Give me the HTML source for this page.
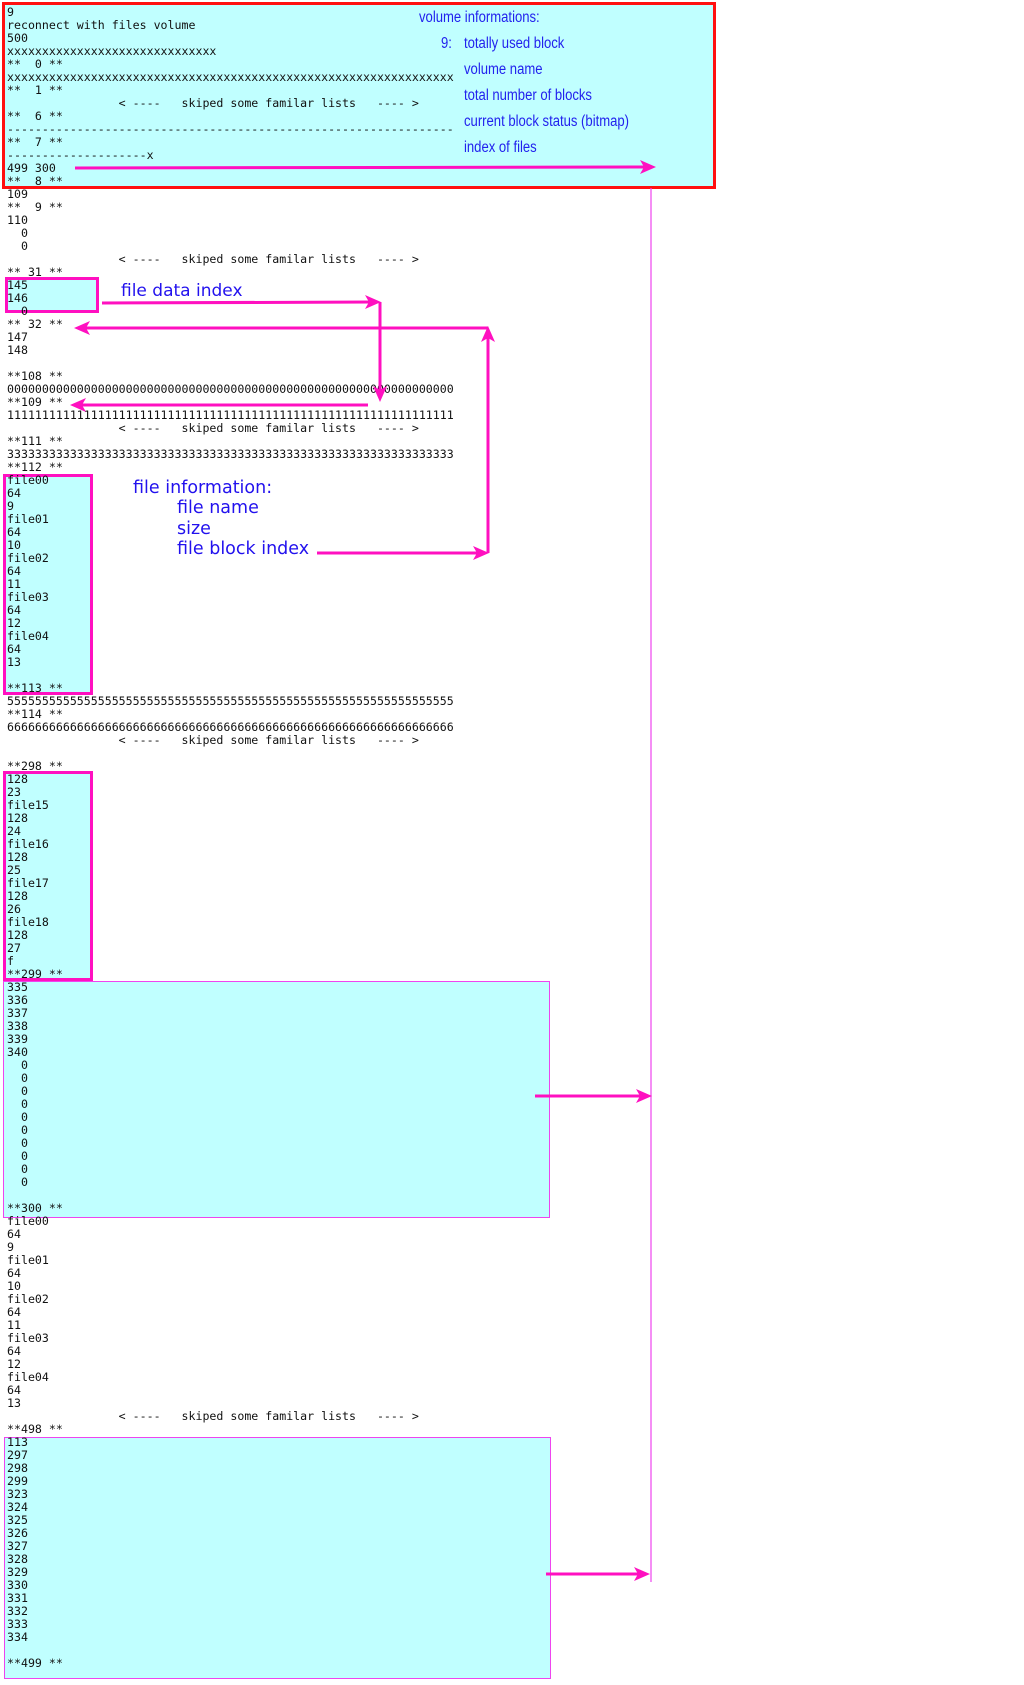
<!DOCTYPE html>
<html><head><meta charset="utf-8"><style>
html,body{margin:0;padding:0;background:#fff;}
body{width:1024px;height:1685px;position:relative;overflow:hidden;}
pre{position:absolute;left:7px;top:6px;margin:0;font-family:"DejaVu Sans Mono","Liberation Mono",monospace;font-size:11.6px;line-height:13.0px;color:#111;z-index:2;}
.b{position:absolute;box-sizing:border-box;background:#c0ffff;z-index:1;}
.lbl{position:absolute;color:#2222ee;font-family:"Liberation Sans",sans-serif;font-size:15.4px;line-height:15px;transform-origin:left center;transform:scaleX(0.85);white-space:nowrap;z-index:3;}
.big{position:absolute;color:#2211ee;font-family:"DejaVu Sans",sans-serif;font-size:17px;line-height:19px;white-space:nowrap;z-index:3;}
svg{position:absolute;left:0;top:0;z-index:4;}
</style></head><body>
<div class="b" style="left:2px;top:2px;width:714px;height:187px;border:3px solid #ff1010;"></div>
<div class="b" style="left:5px;top:277px;width:94px;height:36px;border:3px solid #ff10c0;"></div>
<div class="b" style="left:3px;top:474px;width:90px;height:221px;border:3px solid #ff10c0;"></div>
<div class="b" style="left:3px;top:771px;width:90px;height:210px;border:3px solid #ff10c0;"></div>
<div class="b" style="left:3px;top:981px;width:547px;height:237px;border:1px solid #ee44ee;"></div>
<div class="b" style="left:4px;top:1437px;width:547px;height:242px;border:1px solid #ee44ee;"></div>
<pre>9
reconnect with files volume
500
xxxxxxxxxxxxxxxxxxxxxxxxxxxxxx
**  0 **
xxxxxxxxxxxxxxxxxxxxxxxxxxxxxxxxxxxxxxxxxxxxxxxxxxxxxxxxxxxxxxxx
**  1 **
                &lt; ----   skiped some familar lists   ---- &gt;
**  6 **
----------------------------------------------------------------
**  7 **
--------------------x
499 300
**  8 **
109
**  9 **
110
  0
  0
                &lt; ----   skiped some familar lists   ---- &gt;
** 31 **
145
146
  0
** 32 **
147
148

**108 **
0000000000000000000000000000000000000000000000000000000000000000
**109 **
1111111111111111111111111111111111111111111111111111111111111111
                &lt; ----   skiped some familar lists   ---- &gt;
**111 **
3333333333333333333333333333333333333333333333333333333333333333
**112 **
file00
64
9
file01
64
10
file02
64
11
file03
64
12
file04
64
13

**113 **
5555555555555555555555555555555555555555555555555555555555555555
**114 **
6666666666666666666666666666666666666666666666666666666666666666
                &lt; ----   skiped some familar lists   ---- &gt;

**298 **
128
23
file15
128
24
file16
128
25
file17
128
26
file18
128
27
f
**299 **
335
336
337
338
339
340
  0
  0
  0
  0
  0
  0
  0
  0
  0
  0

**300 **
file00
64
9
file01
64
10
file02
64
11
file03
64
12
file04
64
13
                &lt; ----   skiped some familar lists   ---- &gt;
**498 **
113
297
298
299
323
324
325
326
327
328
329
330
331
332
333
334

**499 **</pre>
<div class="lbl" style="left:419px;top:10px;">volume informations:</div>
<div class="lbl" style="left:441px;top:36px;">9:</div>
<div class="lbl" style="left:464px;top:36px;">totally used block</div>
<div class="lbl" style="left:464px;top:62px;">volume name</div>
<div class="lbl" style="left:464px;top:88px;">total number of blocks</div>
<div class="lbl" style="left:464px;top:114px;">current block status (bitmap)</div>
<div class="lbl" style="left:464px;top:140px;">index of files</div>
<div class="big" style="left:121px;top:282px;">file data index</div>
<div class="big" style="left:133px;top:479px;font-size:17.5px;">file information:</div>
<div class="big" style="left:177px;top:499px;font-size:17.5px;">file name</div>
<div class="big" style="left:177px;top:520px;font-size:17.5px;">size</div>
<div class="big" style="left:177px;top:540px;font-size:17.5px;">file block index</div>
<svg width="1024" height="1685" viewBox="0 0 1024 1685">
<g stroke="#ff10c0" stroke-width="3" fill="none">
<path d="M75 168 L645 167"/>
<path d="M102 303 L374 302 M380 302 L380 393"/>
<path d="M368 405 L80 405"/>
<path d="M317 553 L480 553 M488 553 L488 335 M488 328 L84 328"/>
<path d="M535 1096 L642 1096"/>
<path d="M546 1574 L640 1574"/>
</g>
<line x1="651" y1="188" x2="651" y2="1582" stroke="#ee44ee" stroke-width="1.2"/>
<g fill="#ff10c0">
<polygon points="656,167 640,160 644,167 640,174"/>
<polygon points="381,302 365,295 369,302 365,309"/>
<polygon points="380,402 373,386 380,390 387,386"/>
<polygon points="70,405 86,398 82,405 86,412"/>
<polygon points="489,553 473,546 477,553 473,560"/>
<polygon points="488,326 481,342 488,338 495,342"/>
<polygon points="74,328 90,321 86,328 90,335"/>
<polygon points="652,1096 636,1089 640,1096 636,1103"/>
<polygon points="650,1574 634,1567 638,1574 634,1581"/>
</g>
</svg>
</body></html>
